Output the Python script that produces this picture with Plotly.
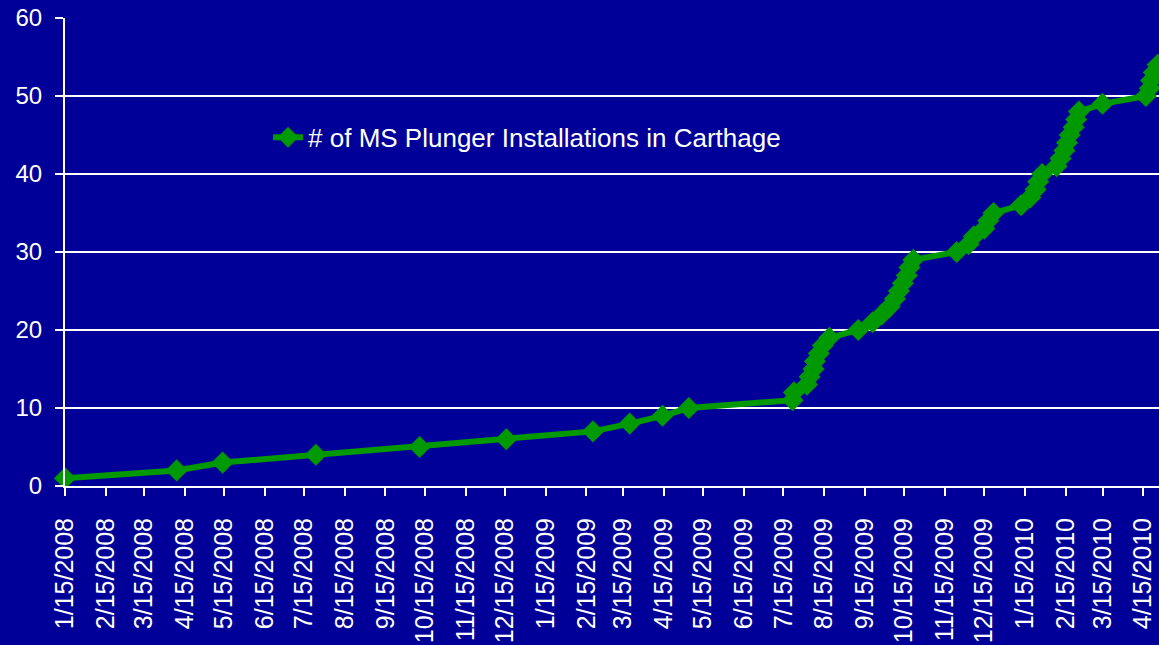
import plotly.graph_objects as go

# Installation dates and cumulative counts
install_dates = [
    "2008-01-15", "2008-04-09", "2008-05-14", "2008-07-24", "2008-10-11",
    "2008-12-16", "2009-02-20", "2009-03-20", "2009-04-14", "2009-05-04",
    "2009-07-22", "2009-07-23", "2009-08-02", "2009-08-04", "2009-08-07",
    "2009-08-08", "2009-08-11", "2009-08-14", "2009-08-19", "2009-09-10",
    "2009-09-21", "2009-09-28", "2009-10-04", "2009-10-08", "2009-10-11",
    "2009-10-14", "2009-10-17", "2009-10-19", "2009-10-22", "2009-11-24",
    "2009-12-03", "2009-12-07", "2009-12-15", "2009-12-18", "2009-12-22",
    "2010-01-12", "2010-01-19", "2010-01-23", "2010-01-25", "2010-01-28",
    "2010-02-08", "2010-02-11", "2010-02-14", "2010-02-16", "2010-02-18",
    "2010-02-21", "2010-02-23", "2010-02-25", "2010-03-15", "2010-04-17",
    "2010-04-20", "2010-04-21", "2010-04-23", "2010-04-26",
]
installations = [
    1, 2, 3, 4, 5, 6, 7, 8, 9, 10,
    11, 12, 13, 14, 15, 16, 17, 18, 19, 20,
    21, 22, 23, 24, 25, 26, 27, 28, 29, 30,
    31, 32, 33, 34, 35, 36, 37, 38, 39, 40,
    41, 42, 43, 44, 45, 46, 47, 48, 49, 50,
    51, 52, 53, 54,
]

tick_dates = [
    "2008-01-15", "2008-02-15", "2008-03-15", "2008-04-15", "2008-05-15",
    "2008-06-15", "2008-07-15", "2008-08-15", "2008-09-15", "2008-10-15",
    "2008-11-15", "2008-12-15", "2009-01-15", "2009-02-15", "2009-03-15",
    "2009-04-15", "2009-05-15", "2009-06-15", "2009-07-15", "2009-08-15",
    "2009-09-15", "2009-10-15", "2009-11-15", "2009-12-15", "2010-01-15",
    "2010-02-15", "2010-03-15", "2010-04-15",
]
tick_labels = [
    "1/15/2008", "2/15/2008", "3/15/2008", "4/15/2008", "5/15/2008",
    "6/15/2008", "7/15/2008", "8/15/2008", "9/15/2008", "10/15/2008",
    "11/15/2008", "12/15/2008", "1/15/2009", "2/15/2009", "3/15/2009",
    "4/15/2009", "5/15/2009", "6/15/2009", "7/15/2009", "8/15/2009",
    "9/15/2009", "10/15/2009", "11/15/2009", "12/15/2009", "1/15/2010",
    "2/15/2010", "3/15/2010", "4/15/2010",
]

series_name = "# of MS Plunger Installations in Carthage"
bg = "#000099"
green = "#009900"

fig = go.Figure()
fig.add_trace(go.Scatter(
    x=install_dates, y=installations, mode="lines+markers",
    name=series_name,
    line=dict(color=green, width=6),
    marker=dict(symbol="diamond", size=17, color=green),
    cliponaxis=False,
))

fig.update_layout(
    width=1159, height=645,
    paper_bgcolor=bg, plot_bgcolor=bg,
    margin=dict(l=65, r=0, t=18, b=159),
    font=dict(family="Liberation Sans, Arial, sans-serif", color="white", size=24),
    showlegend=True,
    legend=dict(x=0.1856, y=0.745, xanchor="left", yanchor="middle",
                bgcolor="rgba(0,0,0,0)", font=dict(size=26, color="white")),
    xaxis=dict(
        type="date",
        range=["2008-01-15", "2010-04-27"],
        tickvals=tick_dates, ticktext=tick_labels,
        tickangle=-90, tickfont=dict(size=25, color="white"),
        ticklabelstandoff=12,
        showgrid=False, zeroline=False,
        showline=True, linecolor="white", linewidth=2,
        ticks="outside", ticklen=8, tickwidth=2, tickcolor="white",
    ),
    yaxis=dict(
        range=[0, 60], dtick=10,
        tickfont=dict(size=24, color="white"),
        ticklabelstandoff=8,
        showgrid=True, gridcolor="white", gridwidth=2,
        zeroline=False,
        showline=True, linecolor="white", linewidth=2,
        ticks="outside", ticklen=8, tickwidth=2, tickcolor="white",
    ),
)

fig.write_html(
    "out.html",
    config={"displayModeBar": False},
    post_script="document.body.style.margin='0';document.body.style.background='#000099';document.documentElement.style.background='#000099';",
)
